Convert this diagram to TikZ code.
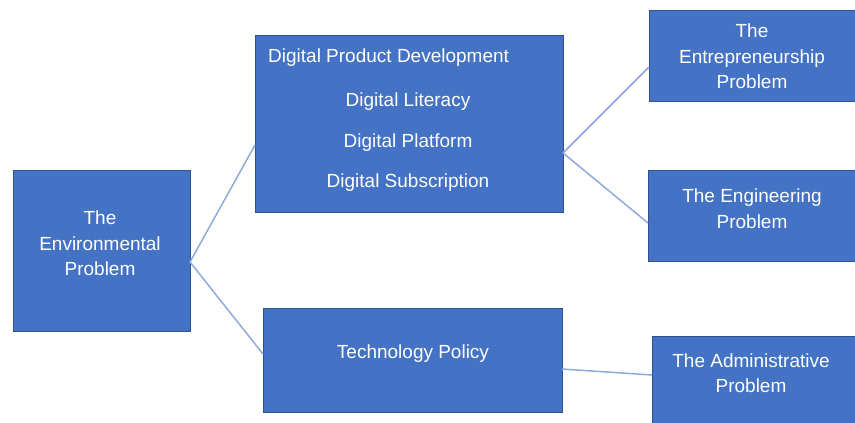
\documentclass[tikz,border=0pt]{standalone}
\usepackage{fontspec}
\setmainfont{Liberation Sans}
\definecolor{boxfill}{HTML}{4472C4}
\definecolor{boxline}{HTML}{2F528F}
\definecolor{linkcol}{HTML}{8FAADC}
\begin{document}
\begin{tikzpicture}[x=1pt,y=-1pt,
  box/.style={draw=boxline, line width=0.8pt, fill=boxfill, anchor=north west, inner sep=0pt, outer sep=0pt},
  txt/.style={text=white, font=\fontsize{19}{23}\selectfont, inner sep=0pt, anchor=base},
  link/.style={draw=linkcol, line width=1.5pt}]
\useasboundingbox (0,0) rectangle (855,423);
\fill[white] (0,0) rectangle (855,423);
% boxes
\node[box, minimum width=177pt, minimum height=161pt] (env) at (13,170) {};
\node[box, minimum width=308pt, minimum height=177pt] (mid) at (255,35) {};
\node[box, minimum width=299pt, minimum height=104pt] (tech) at (263,308) {};
\node[box, minimum width=220pt, minimum height=91pt] (ent) at (649,10) {};
\node[box, minimum width=220pt, minimum height=91pt] (eng) at (648,170) {};
\node[box, minimum width=220pt, minimum height=100pt] (adm) at (652,336) {};
% connectors
\coordinate (envOut) at ([shift={(0,92)}]env.north east);
\coordinate (midIn) at ([shift={(0,110)}]mid.north west);
\coordinate (midOut) at ([shift={(0,118)}]mid.north east);
\coordinate (techIn) at ([shift={(0,46)}]tech.north west);
\coordinate (techOut) at ([shift={(0,61)}]tech.north east);
\coordinate (entIn) at ([shift={(0,57)}]ent.north west);
\coordinate (engIn) at ([shift={(0,53)}]eng.north west);
\coordinate (admIn) at ([shift={(0,39)}]adm.north west);
\draw[link] (envOut) -- (midIn);
\draw[link] (envOut) -- (techIn);
\draw[link] (midOut) -- (entIn);
\draw[link] (midOut) -- (engIn);
\draw[link] (techOut) -- (admIn);
% texts
\node[txt] (envA) at (100,224) {The};
\node[txt] (envB) at (100,250) {Environmental};
\node[txt] (envC) at (100,275) {Problem};
\node[txt, anchor=base west] (dpd) at (268,62) {Digital Product Development};
\node[txt] (dl) at (408,106) {Digital Literacy};
\node[txt] (dp) at (408,147) {Digital Platform};
\node[txt] (ds) at (408,187) {Digital Subscription};
\node[txt] (entA) at (752,37) {The};
\node[txt] (entB) at (752,63) {Entrepreneurship};
\node[txt] (entC) at (752,88) {Problem};
\node[txt] (engA) at (752,202) {The Engineering};
\node[txt] (engB) at (752,228) {Problem};
\node[txt] (tp) at (413,358) {Technology Policy};
\node[txt] (admA) at (751,367) {The Administrative};
\node[txt] (admB) at (751,392) {Problem};
\end{tikzpicture}
\end{document}
